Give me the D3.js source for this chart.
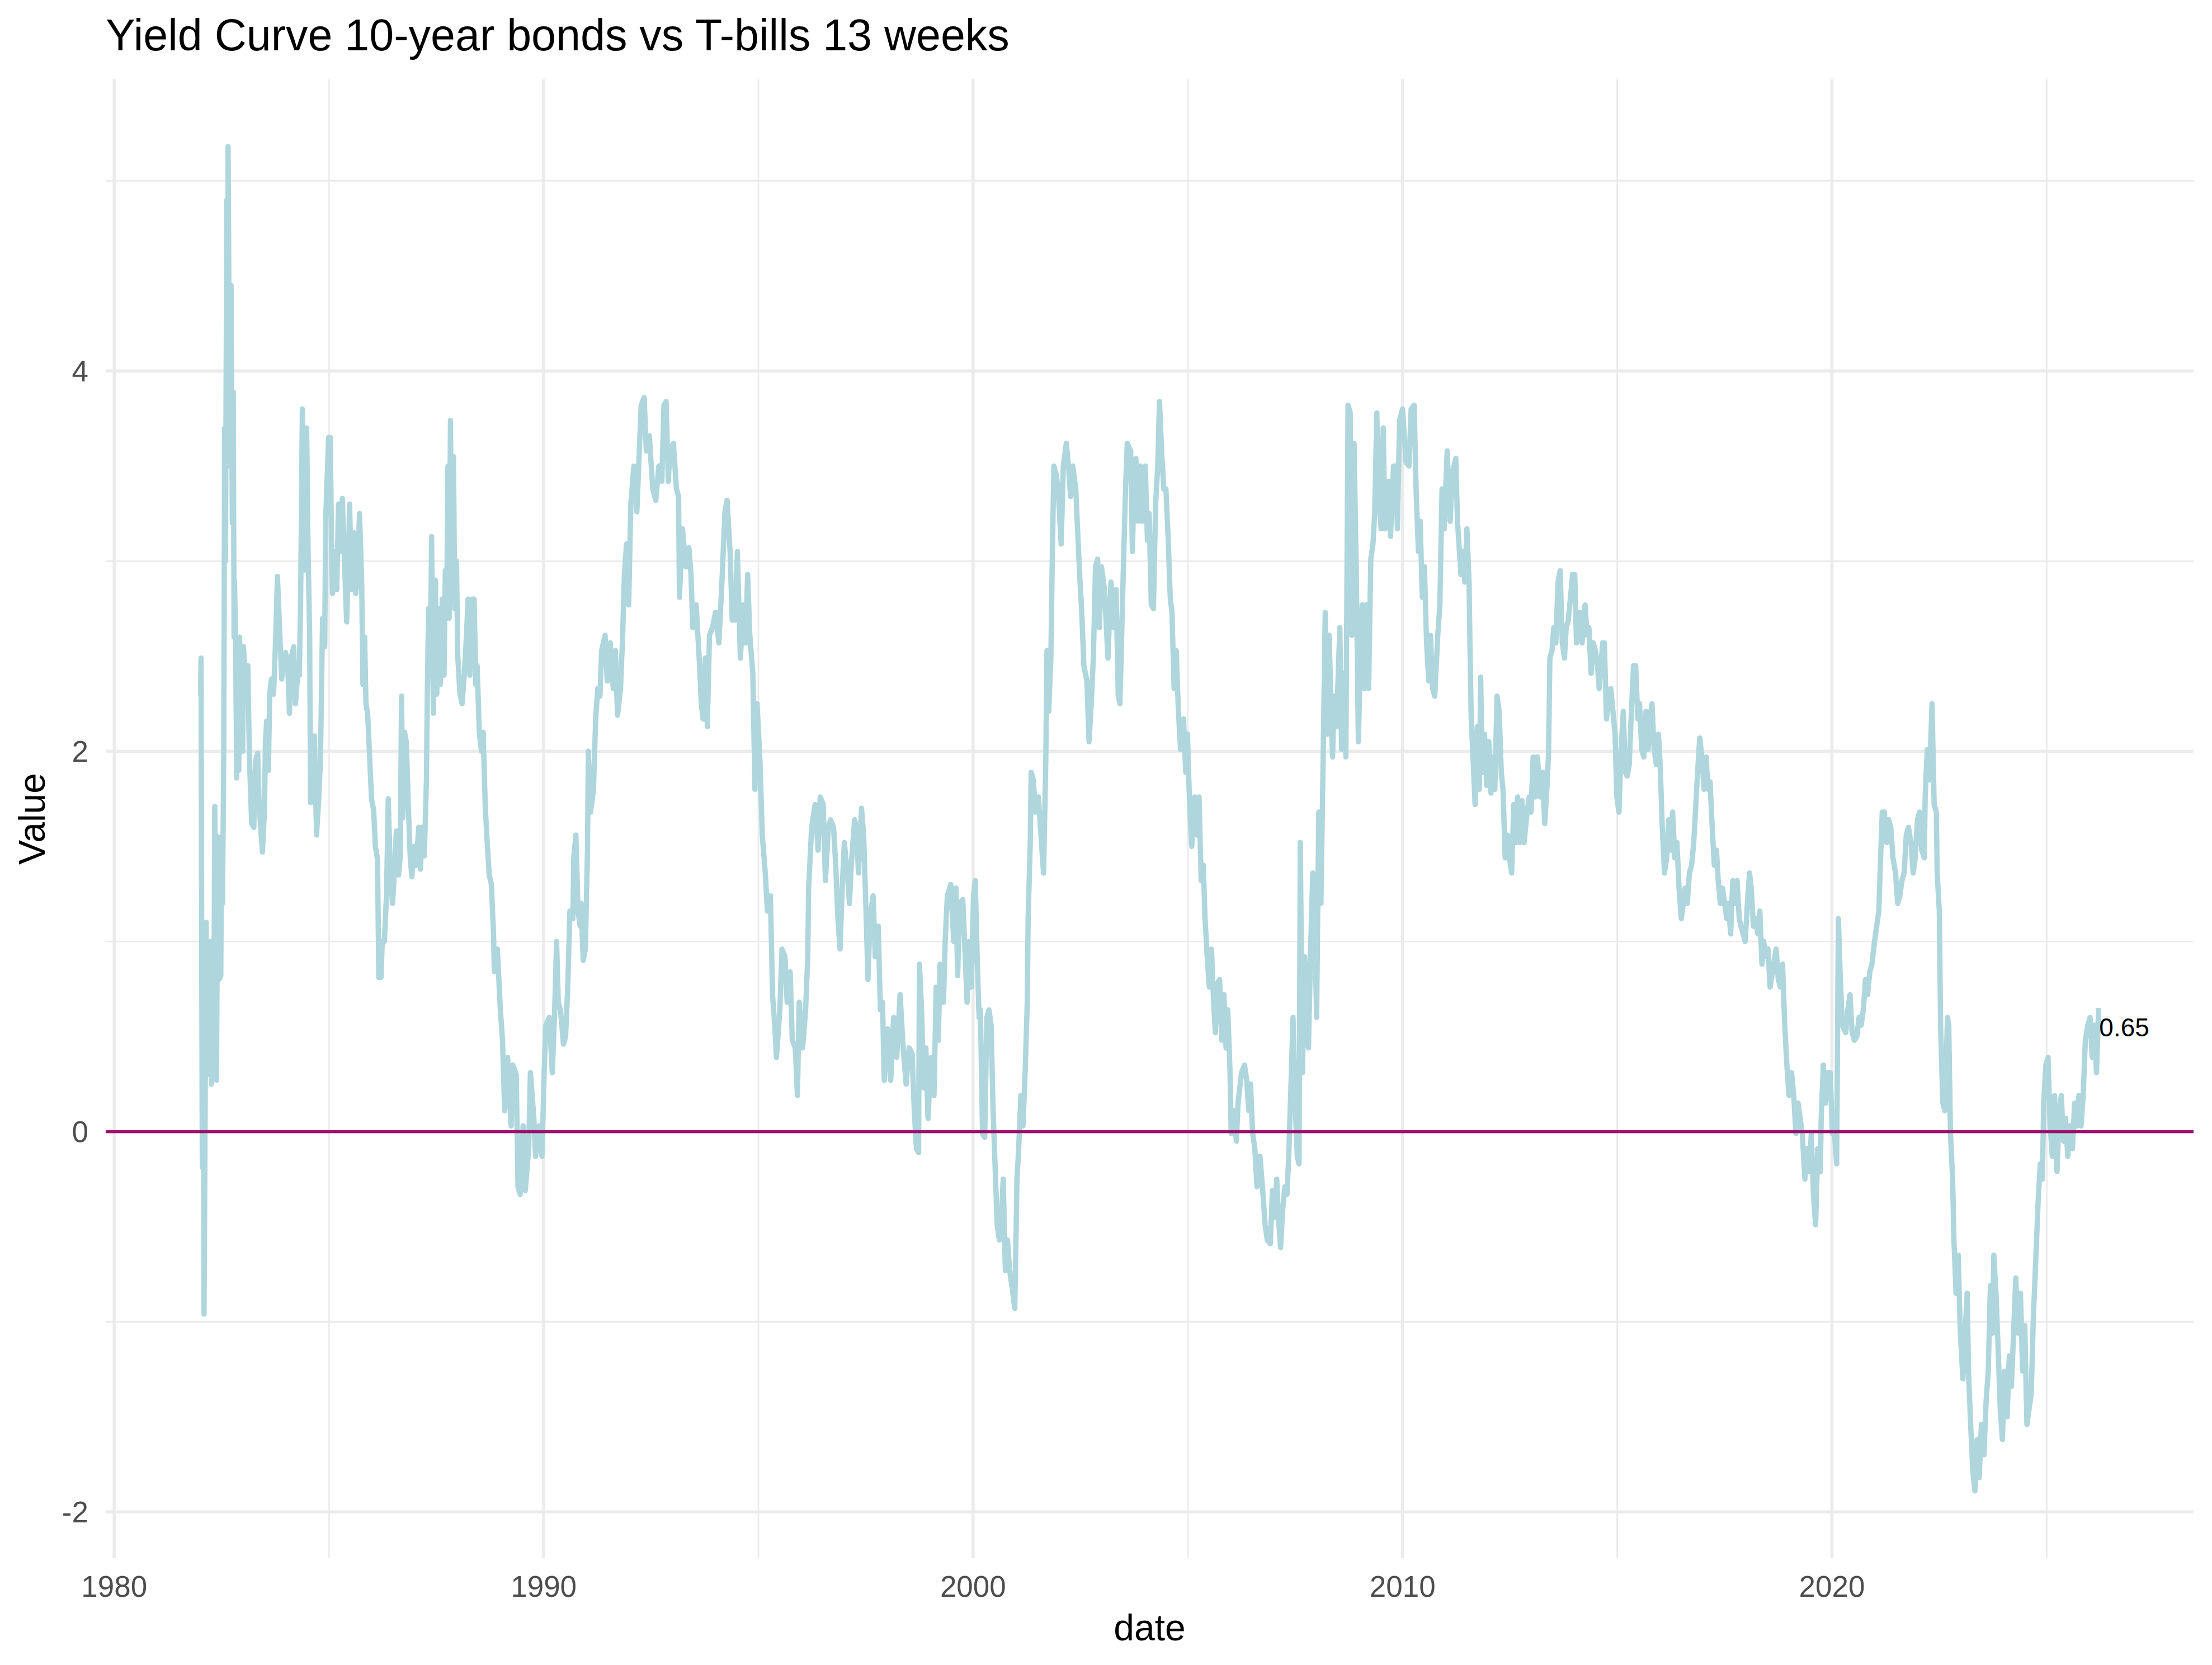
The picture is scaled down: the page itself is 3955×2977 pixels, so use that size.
<!DOCTYPE html>
<html>
<head>
<meta charset="utf-8">
<script src="https://cdn.jsdelivr.net/npm/d3@7"></script>
<style>
  html, body { margin: 0; padding: 0; background: #ffffff; }
  svg { display: block; }
</style>
</head>
<body>
<div id="chart"></div>
<script>
// ---------------- DATA (decimal years, spread in percentage points) ----------------
const years1980s = [1982.01,1982.02,1982.03,1982.04,1982.05,1982.07,1982.09,1982.12,1982.14,1982.16,1982.19,1982.21,1982.24,1982.26,1982.29,1982.32,1982.34,1982.38,1982.41,1982.44,1982.48,1982.50,1982.52,1982.55,1982.57,1982.59,1982.62,1982.64,1982.65,1982.69,1982.72,1982.75,1982.77,1982.79,1982.80,1982.83,1982.85,1982.87,1982.90,1982.92,1982.94,1982.97,1982.99,
1983.01,1983.06,1983.11,1983.15,1983.20,1983.25,1983.29,1983.34,1983.37,1983.41,1983.45,1983.50,1983.52,1983.55,1983.59,1983.62,1983.66,1983.71,1983.76,1983.80,1983.85,1983.90,1983.94,1983.99,
1984.04,1984.08,1984.13,1984.18,1984.22,1984.27,1984.31,1984.34,1984.38,1984.41,1984.43,1984.48,1984.51,1984.55,1984.57,1984.62,1984.66,1984.71,1984.76,1984.80,1984.85,1984.90,1984.92,1984.95,1984.99,
1985.03,1985.06,1985.08,1985.13,1985.18,1985.22,1985.27,1985.31,1985.36,1985.41,1985.45,1985.48,1985.52,1985.57,1985.62,1985.66,1985.71,1985.76,1985.79,1985.83,1985.86,1985.90,1985.94,1985.99,
1986.04,1986.08,1986.13,1986.16,1986.21,1986.24,1986.29,1986.34,1986.38,1986.43,1986.48,1986.52,1986.57,1986.62,1986.66,1986.69,1986.72,1986.76,1986.80,1986.85,1986.89,1986.93,1986.99,
1987.03,1987.09,1987.13,1987.17,1987.22,1987.27,1987.29,1987.32,1987.36,1987.39,1987.43,1987.48,1987.51,1987.55,1987.59,1987.64,1987.68,1987.71,1987.74,1987.77,1987.80,1987.83,1987.86,1987.90,1987.93,1987.97,
1988.00,1988.05,1988.10,1988.15,1988.20,1988.24,1988.28,1988.34,1988.38,1988.42,1988.45,1988.50,1988.55,1988.59,1988.64,1988.69,1988.73,1988.78,1988.83,1988.85,1988.92,1988.99,
1989.04,1989.09,1989.16,1989.24,1989.28,1989.36,1989.40,1989.45,1989.52,1989.57,1989.65,1989.69,1989.77,1989.81,1989.89,1989.96];
const values1980s = [2.29,2.49,1.54,0.57,-0.19,0.9,-0.96,0.3,1.1,0.3,0.95,0.4,1.0,0.25,0.95,0.6,1.71,0.27,1.55,0.8,0.82,1.55,1.2,2.0,3.7,3.0,4.9,3.5,5.18,3.6,4.45,3.2,3.89,2.6,2.9,2.5,1.86,2.45,1.9,2.6,2.04,2.5,2.0,
2.55,2.3,2.45,1.95,1.62,1.6,1.95,1.99,1.75,1.6,1.47,1.7,2.05,2.16,1.9,2.3,2.38,2.3,2.6,2.92,2.65,2.38,2.5,2.52,
2.45,2.2,2.5,2.55,2.25,2.4,2.4,2.8,3.8,2.95,3.6,3.7,3.1,2.6,1.73,1.9,2.08,1.56,1.75,1.95,2.7,2.55,3.2,3.4,3.65,
3.65,3.05,2.83,3.05,2.85,3.3,3.05,3.33,3.0,2.68,3.0,3.3,2.85,3.15,2.83,2.9,3.25,2.9,2.35,2.6,2.25,2.2,2.0,1.75,
1.69,1.5,1.43,0.81,0.81,1.0,1.0,1.25,1.75,1.35,1.2,1.35,1.58,1.35,1.45,2.29,1.65,2.1,2.05,1.7,1.45,1.34,1.5,
1.4,1.6,1.38,1.6,1.45,1.85,2.3,2.75,2.4,3.13,2.2,2.9,2.3,2.75,2.35,2.8,2.4,2.95,2.7,3.5,2.7,3.74,2.8,3.55,2.75,3.0,
2.5,2.3,2.25,2.4,2.6,2.8,2.4,2.8,2.8,2.35,2.45,2.1,2.0,2.1,1.7,1.5,1.35,1.3,1.05,0.84,0.96,0.64,
0.48,0.11,0.39,0.03,0.35,0.3,-0.29,-0.33,0.03,-0.31,-0.09,0.31,0.07,-0.13,0.03,-0.13];

const years1990s = [1990.01,1990.05,1990.13,1990.20,1990.25,1990.30,1990.34,1990.39,1990.46,1990.51,1990.56,1990.61,1990.68,1990.70,1990.75,1990.80,1990.85,1990.87,1990.92,1990.97,
1991.02,1991.04,1991.09,1991.16,1991.21,1991.26,1991.31,1991.35,1991.43,1991.48,1991.55,1991.62,1991.67,1991.72,1991.79,1991.84,1991.88,1991.93,1991.98,
1992.03,1992.10,1992.17,1992.22,1992.27,1992.34,1992.39,1992.46,1992.54,1992.61,1992.68,1992.75,1992.80,1992.85,1992.90,1992.94,
1993.02,1993.09,1993.14,1993.16,1993.23,1993.31,1993.38,1993.43,1993.47,1993.55,1993.62,1993.67,1993.71,1993.76,1993.81,1993.86,1993.93,
1994.00,1994.08,1994.15,1994.22,1994.27,1994.34,1994.39,1994.46,1994.51,1994.58,1994.65,1994.70,1994.75,1994.80,1994.87,1994.92,1994.97,
1995.04,1995.09,1995.16,1995.21,1995.28,1995.33,1995.38,1995.42,1995.50,1995.55,1995.62,1995.67,1995.74,1995.79,1995.86,1995.91,1995.95,
1996.03,1996.10,1996.15,1996.17,1996.24,1996.32,1996.39,1996.44,1996.51,1996.56,1996.63,1996.68,1996.75,1996.80,1996.85,1996.90,1996.95,
1997.00,1997.07,1997.12,1997.16,1997.24,1997.28,1997.33,1997.40,1997.45,1997.50,1997.55,1997.60,1997.67,1997.72,1997.79,1997.84,1997.89,1997.93,
1998.01,1998.08,1998.15,1998.22,1998.30,1998.37,1998.44,1998.51,1998.58,1998.63,1998.68,1998.73,1998.75,1998.80,1998.85,1998.90,1998.95,
1999.02,1999.09,1999.14,1999.19,1999.23,1999.31,1999.35,1999.40,1999.48,1999.55,1999.60,1999.64,1999.69,1999.76,1999.81,1999.86,1999.91,1999.96];
const values1990s = [0.31,0.56,0.6,0.31,0.6,1.0,0.68,0.64,0.46,0.5,0.76,1.16,1.12,1.44,1.56,1.16,1.08,1.2,0.9,0.96,
1.48,2.0,1.68,1.8,2.17,2.33,2.29,2.53,2.61,2.37,2.57,2.33,2.53,2.19,2.33,2.61,2.93,3.09,2.77,
3.3,3.5,3.26,3.54,3.82,3.86,3.58,3.66,3.38,3.32,3.5,3.42,3.82,3.84,3.42,3.58,
3.62,3.38,3.34,2.81,3.17,2.97,3.07,2.93,2.65,2.77,2.49,2.25,2.17,2.49,2.13,2.61,2.65,
2.73,2.57,2.89,3.26,3.32,3.05,2.69,2.69,3.05,2.49,2.77,2.57,2.93,2.61,2.41,1.8,2.25,
1.93,1.56,1.36,1.16,1.24,0.72,0.56,0.39,0.64,0.96,0.92,0.68,0.84,0.48,0.44,0.19,0.68,
0.44,0.64,0.92,1.28,1.6,1.72,1.48,1.76,1.72,1.32,1.6,1.64,1.6,1.4,1.12,0.96,1.28,
1.52,1.36,1.2,1.4,1.64,1.6,1.36,1.7,1.56,1.2,0.8,1.12,1.24,0.92,1.08,0.64,0.68,0.27,
0.54,0.27,0.6,0.39,0.72,0.44,0.25,0.44,0.41,0.11,-0.09,-0.11,0.88,0.64,0.23,0.44,0.07,
0.39,0.19,0.76,0.48,0.88,0.68,1.0,1.24,1.3,1.0,1.28,0.82,1.2,1.22,0.96,0.68,1.0,0.76];

const years2000s = [2000.01,2000.05,2000.10,2000.14,2000.17,2000.22,2000.27,2000.32,2000.37,2000.42,2000.46,2000.51,2000.56,2000.61,2000.66,2000.70,2000.75,2000.80,2000.85,2000.90,2000.97,
2001.02,2001.06,2001.11,2001.16,2001.21,2001.26,2001.28,2001.33,2001.35,2001.40,2001.45,2001.52,2001.59,2001.64,2001.69,2001.72,2001.76,2001.81,2001.84,2001.88,2001.93,2001.98,
2002.05,2002.10,2002.17,2002.22,2002.27,2002.32,2002.39,2002.44,2002.49,2002.53,2002.58,2002.65,2002.70,2002.75,2002.80,2002.85,2002.90,2002.94,2002.99,
2003.06,2003.14,2003.21,2003.28,2003.33,2003.38,2003.42,2003.50,2003.55,2003.59,2003.67,2003.71,2003.76,2003.79,2003.84,2003.89,2003.94,
2004.01,2004.06,2004.10,2004.15,2004.20,2004.25,2004.30,2004.34,2004.39,2004.44,2004.49,2004.54,2004.59,2004.63,2004.68,2004.73,2004.78,2004.83,2004.90,2004.95,2004.99,
2005.04,2005.09,2005.16,2005.21,2005.26,2005.31,2005.36,2005.40,2005.45,2005.50,2005.55,2005.60,2005.64,2005.69,2005.74,2005.79,2005.84,2005.89,2005.93,2005.98,
2006.01,2006.08,2006.13,2006.17,2006.25,2006.32,2006.37,2006.42,2006.46,2006.51,2006.56,2006.61,2006.68,2006.75,2006.80,2006.85,2006.92,2006.97,
2007.02,2007.07,2007.11,2007.16,2007.21,2007.26,2007.31,2007.35,2007.40,2007.45,2007.50,2007.55,2007.59,2007.62,2007.67,2007.72,2007.76,2007.81,2007.86,2007.91,2007.96,
2008.00,2008.05,2008.10,2008.15,2008.17,2008.20,2008.25,2008.29,2008.37,2008.41,2008.46,2008.54,2008.58,2008.63,2008.68,2008.73,2008.78,2008.82,2008.87,2008.92,2008.97,
2009.02,2009.06,2009.11,2009.16,2009.21,2009.26,2009.31,2009.35,2009.40,2009.45,2009.50,2009.55,2009.59,2009.67,2009.72,2009.79,2009.84,2009.88,2009.93];
const values2000s = [1.24,1.32,0.88,0.6,0.64,-0.01,-0.03,0.6,0.64,0.56,0.15,-0.17,-0.49,-0.57,-0.45,-0.25,-0.73,-0.57,-0.73,-0.81,-0.93,
-0.25,-0.09,0.19,0.03,0.31,0.68,1.12,1.52,1.89,1.85,1.68,1.76,1.52,1.36,1.93,2.53,2.21,2.49,2.97,3.5,3.46,3.38,
3.09,3.5,3.62,3.5,3.34,3.5,3.38,3.13,2.89,2.73,2.45,2.37,2.05,2.25,2.49,2.97,3.01,2.65,2.97,
2.85,2.49,2.89,2.65,2.85,2.29,2.25,2.97,3.38,3.62,3.58,3.05,3.5,3.54,3.21,3.5,3.21,
3.5,3.11,3.25,2.77,2.75,3.3,3.5,3.84,3.58,3.38,3.38,3.13,2.81,2.73,2.33,2.53,2.21,2.01,2.17,1.89,2.09,
1.72,1.5,1.76,1.56,1.76,1.32,1.4,1.12,0.92,0.76,0.96,0.68,0.52,0.78,0.8,0.48,0.72,0.44,0.64,0.33,
-0.01,0.11,-0.05,0.15,0.31,0.35,0.27,0.11,0.25,-0.01,-0.09,-0.29,-0.13,-0.33,-0.49,-0.57,-0.59,-0.31,
-0.45,-0.25,-0.45,-0.61,-0.41,-0.29,-0.33,-0.13,0.23,0.6,0.15,-0.13,-0.17,1.52,0.31,0.92,0.76,0.44,0.96,1.36,1.04,
0.6,1.68,1.2,1.93,2.25,2.73,2.09,2.61,1.97,2.29,2.13,2.65,2.01,2.41,1.97,3.82,3.78,2.61,3.62,2.97,2.05,
2.53,2.77,2.33,2.77,2.33,3.01,3.09,3.25,3.78,3.34,3.17,3.7,3.17,3.42,3.13,3.5,3.5,3.17,3.74];

const years2010s = [2010.00,2010.08,2010.15,2010.20,2010.27,2010.32,2010.37,2010.41,2010.46,2010.51,2010.56,2010.61,2010.65,2010.70,2010.75,2010.82,2010.87,2010.92,2010.97,
2011.04,2011.11,2011.16,2011.24,2011.28,2011.36,2011.40,2011.45,2011.50,2011.55,2011.57,2011.60,2011.65,2011.69,2011.74,2011.79,2011.82,2011.86,2011.91,2011.96,
2012.01,2012.06,2012.10,2012.15,2012.20,2012.25,2012.30,2012.34,2012.39,2012.44,2012.49,2012.54,2012.59,2012.63,2012.68,2012.73,2012.78,2012.83,2012.90,2012.95,2012.99,
2013.04,2013.09,2013.14,2013.21,2013.26,2013.31,2013.36,2013.40,2013.43,2013.48,2013.52,2013.57,2013.62,2013.67,2013.72,2013.77,2013.81,2013.86,2013.91,2013.96,
2014.01,2014.05,2014.13,2014.18,2014.25,2014.30,2014.34,2014.39,2014.44,2014.49,2014.54,2014.58,2014.66,2014.70,2014.75,2014.80,2014.85,2014.90,2014.95,2014.99,
2015.04,2015.09,2015.14,2015.19,2015.23,2015.28,2015.33,2015.38,2015.43,2015.48,2015.52,2015.57,2015.62,2015.67,2015.72,2015.76,2015.81,2015.86,2015.91,2015.96,
2016.00,2016.05,2016.10,2016.15,2016.20,2016.25,2016.29,2016.34,2016.39,2016.44,2016.49,2016.54,2016.58,2016.63,2016.68,2016.73,2016.78,2016.82,2016.87,2016.92,2016.97,
2017.02,2017.07,2017.11,2017.16,2017.21,2017.26,2017.31,2017.35,2017.40,2017.45,2017.50,2017.55,2017.59,2017.64,2017.69,2017.74,2017.79,2017.84,2017.88,2017.93,2017.98,
2018.03,2018.08,2018.12,2018.17,2018.22,2018.27,2018.32,2018.37,2018.41,2018.46,2018.51,2018.56,2018.64,2018.70,2018.75,2018.80,2018.85,2018.90,2018.95,
2019.00,2019.06,2019.11,2019.16,2019.21,2019.26,2019.31,2019.37,2019.42,2019.47,2019.52,2019.57,2019.62,2019.67,2019.73,2019.75,2019.80,2019.85,2019.91,2019.96];
const values2010s = [3.8,3.52,3.5,3.8,3.82,3.34,3.05,3.21,2.81,2.97,2.57,2.37,2.61,2.33,2.29,2.61,2.77,3.38,3.17,
3.58,3.21,3.46,3.54,3.21,2.93,3.05,2.89,3.17,2.89,2.57,2.17,1.93,1.72,2.13,1.8,2.39,1.89,2.09,1.82,
2.05,1.78,1.97,1.8,2.29,2.21,1.89,1.8,1.44,1.56,1.44,1.36,1.72,1.52,1.76,1.52,1.74,1.52,1.68,1.76,1.68,
1.97,1.76,1.97,1.76,1.89,1.62,1.8,1.99,2.49,2.53,2.65,2.57,2.89,2.95,2.57,2.49,2.65,2.69,2.81,2.93,
2.93,2.57,2.73,2.57,2.77,2.61,2.65,2.41,2.57,2.53,2.45,2.33,2.57,2.57,2.17,2.29,2.33,2.21,2.09,1.76,
1.68,2.01,2.21,1.89,1.87,1.93,2.21,2.45,2.45,2.17,2.25,2.01,1.97,2.21,2.01,2.17,2.25,2.01,1.93,2.09,
1.93,1.6,1.36,1.44,1.64,1.48,1.68,1.44,1.52,1.28,1.12,1.2,1.28,1.2,1.36,1.4,1.52,1.68,1.89,2.07,1.97,
1.8,1.97,1.8,1.84,1.6,1.4,1.48,1.32,1.2,1.28,1.2,1.12,1.2,1.04,1.32,1.2,1.32,1.12,1.08,1.04,1.0,
1.2,1.36,1.28,1.08,1.12,1.04,1.16,0.88,1.0,0.92,0.96,0.76,0.88,0.96,0.8,0.76,0.88,0.56,0.35,
0.19,0.31,0.19,-0.01,0.15,0.07,-0.01,-0.25,-0.09,-0.21,-0.01,-0.33,-0.49,-0.09,-0.21,0.07,0.35,0.15,0.31,0.31];

const years2020s = [2020.01,2020.06,2020.11,2020.15,2020.19,2020.24,2020.32,2020.37,2020.42,2020.47,2020.52,2020.58,2020.63,2020.68,2020.73,2020.78,2020.83,2020.88,2020.93,2020.99,
2021.04,2021.09,2021.12,2021.17,2021.22,2021.27,2021.32,2021.37,2021.42,2021.48,2021.53,2021.58,2021.63,2021.68,2021.73,2021.78,2021.84,2021.89,2021.94,2021.99,
2022.04,2022.09,2022.15,2022.17,2022.22,2022.27,2022.33,2022.38,2022.43,2022.45,2022.50,2022.53,2022.58,2022.63,2022.69,2022.72,2022.76,2022.81,2022.84,2022.89,2022.94,2022.99,
2023.05,2023.10,2023.15,2023.18,2023.23,2023.28,2023.33,2023.38,2023.43,2023.48,2023.54,2023.59,2023.64,2023.69,2023.74,2023.77,2023.82,2023.87,2023.92,2023.97,
2024.02,2024.08,2024.13,2024.18,2024.23,2024.28,2024.33,2024.39,2024.44,2024.49,2024.54,2024.59,2024.64,2024.69,2024.75,2024.80,2024.85,2024.90,2024.93,2024.98,
2025.03,2025.08,2025.13,2025.18,2025.24,2025.29,2025.34,2025.39,2025.44,2025.49,2025.54,2025.60,2025.65,2025.70,2025.75,2025.80,2025.85,2025.90,2025.96,2026.01,2026.06,2026.11,2026.16,2026.21];
const values2020s = [-0.01,-0.01,-0.17,1.12,0.84,0.56,0.52,0.64,0.72,0.52,0.48,0.5,0.6,0.56,0.64,0.8,0.72,0.84,0.88,1.0,
1.08,1.16,1.36,1.68,1.68,1.52,1.64,1.6,1.44,1.36,1.2,1.24,1.32,1.36,1.56,1.6,1.52,1.36,1.44,1.64,
1.68,1.48,1.44,1.76,2.01,1.85,2.25,1.72,1.68,1.36,1.16,0.56,0.15,0.11,0.6,0.56,-0.01,-0.25,-0.57,-0.85,-0.65,-1.06,
-1.3,-1.06,-0.85,-1.26,-1.54,-1.78,-1.89,-1.62,-1.82,-1.54,-1.7,-1.42,-1.26,-0.81,-1.06,-0.65,-0.85,-1.14,-1.46,-1.62,
-1.26,-1.5,-1.18,-1.34,-1.06,-0.77,-1.06,-0.85,-1.26,-1.02,-1.54,-1.46,-1.38,-0.97,-0.65,-0.37,-0.17,-0.25,0.15,0.35,
0.39,0.03,-0.13,0.19,-0.21,0.11,0.19,-0.05,0.07,-0.13,0.03,-0.09,0.15,0.03,0.19,0.03,0.19,0.48,0.56,0.6,0.39,0.56,0.31,0.65];

// Axis ticks
const xMajorYears = [1980, 1990, 2000, 2010, 2020];
const xMinorYears = [1985, 1995, 2005, 2015, 2025];
const yMajorTicks = [-2, 0, 2, 4];
const yMinorTicks = [-1, 1, 3, 5];
const referenceLevel = 0;

const titleText = "Yield Curve 10-year bonds vs T-bills 13 weeks";
const xTitle = "date";
const yTitle = "Value";

// ---------------- BUILD ----------------
function yearToDate(y) {
  const yr = Math.floor(y);
  const s = Date.UTC(yr, 0, 1), e = Date.UTC(yr + 1, 0, 1);
  return new Date(s + (y - yr) * (e - s));
}
const allYears = [].concat(years1980s, years1990s, years2000s, years2010s, years2020s);
const allValues = [].concat(values1980s, values1990s, values2000s, values2010s, values2020s);
const data = allYears.map((y, i) => ({ date: yearToDate(y), value: allValues[i] }));

const W = 3955, H = 2977;
const P = { left: 189, right: 3922, top: 142, bottom: 2786 };
const FONT = "'Liberation Sans', Arial, Helvetica, sans-serif";

const xExt = d3.extent(data, d => +d.date);
const xPad = (xExt[1] - xExt[0]) * 0.05;
const x = d3.scaleUtc()
  .domain([new Date(xExt[0] - xPad), new Date(xExt[1] + xPad)])
  .range([P.left, P.right]);

const yExt = d3.extent(data, d => d.value);
const yPad = (yExt[1] - yExt[0]) * 0.05;
const y = d3.scaleLinear()
  .domain([yExt[0] - yPad, yExt[1] + yPad])
  .range([P.bottom, P.top]);

const svg = d3.select("#chart").append("svg")
  .attr("width", W).attr("height", H)
  .attr("viewBox", `0 0 ${W} ${H}`)
  .style("font-family", FONT);

svg.append("rect").attr("width", W).attr("height", H).attr("fill", "#ffffff");

const grid = svg.append("g");
const GRID = "#ebebeb";
// minor grid
grid.selectAll(".ymin").data(yMinorTicks).join("line")
  .attr("x1", P.left).attr("x2", P.right)
  .attr("y1", d => y(d)).attr("y2", d => y(d))
  .attr("stroke", GRID).attr("stroke-width", 2.8);
grid.selectAll(".xmin").data(xMinorYears).join("line")
  .attr("x1", d => x(yearToDate(d))).attr("x2", d => x(yearToDate(d)))
  .attr("y1", P.top).attr("y2", P.bottom)
  .attr("stroke", GRID).attr("stroke-width", 2.8);
// major grid
grid.selectAll(".ymaj").data(yMajorTicks).join("line")
  .attr("x1", P.left).attr("x2", P.right)
  .attr("y1", d => y(d)).attr("y2", d => y(d))
  .attr("stroke", GRID).attr("stroke-width", 5.6);
grid.selectAll(".xmaj").data(xMajorYears).join("line")
  .attr("x1", d => x(yearToDate(d))).attr("x2", d => x(yearToDate(d)))
  .attr("y1", P.top).attr("y2", P.bottom)
  .attr("stroke", GRID).attr("stroke-width", 5.6);

// series line
const line = d3.line().x(d => x(d.date)).y(d => y(d.value));
svg.append("path").datum(data)
  .attr("d", line)
  .attr("fill", "none")
  .attr("stroke", "#aed6dc")
  .attr("stroke-width", 9.5)
  .attr("stroke-linejoin", "round")
  .attr("stroke-linecap", "butt");

// reference line at zero
svg.append("line")
  .attr("x1", P.left).attr("x2", P.right)
  .attr("y1", y(referenceLevel)).attr("y2", y(referenceLevel))
  .attr("stroke", "#9c0f6b").attr("stroke-width", 5.8);

// tick labels
const TICK = "#4d4d4d";
svg.append("g").selectAll("text").data(xMajorYears).join("text")
  .attr("x", d => x(yearToDate(d))).attr("y", 2855)
  .attr("text-anchor", "middle")
  .attr("font-size", 53).attr("fill", TICK)
  .text(d => d);
svg.append("g").selectAll("text").data(yMajorTicks).join("text")
  .attr("x", 158).attr("y", d => y(d) + 19)
  .attr("text-anchor", "end")
  .attr("font-size", 53).attr("fill", TICK)
  .text(d => d);

// axis titles
svg.append("text")
  .attr("x", (P.left + P.right) / 2).attr("y", 2933)
  .attr("text-anchor", "middle").attr("font-size", 66).attr("fill", "#000")
  .text(xTitle);
svg.append("text")
  .attr("transform", `translate(80,${(P.top + P.bottom) / 2}) rotate(-90)`)
  .attr("text-anchor", "middle").attr("font-size", 66).attr("fill", "#000")
  .text(yTitle);

// title
svg.append("text")
  .attr("x", P.left).attr("y", 90)
  .attr("font-size", 79).attr("fill", "#000")
  .text(titleText);

// last value label
const last = data[data.length - 1];
svg.append("text")
  .attr("x", x(last.date) + 1).attr("y", y(last.value) + 51)
  .attr("font-size", 46).attr("fill", "#000")
  .text(d3.format(".2f")(last.value));
</script>
</body>
</html>
